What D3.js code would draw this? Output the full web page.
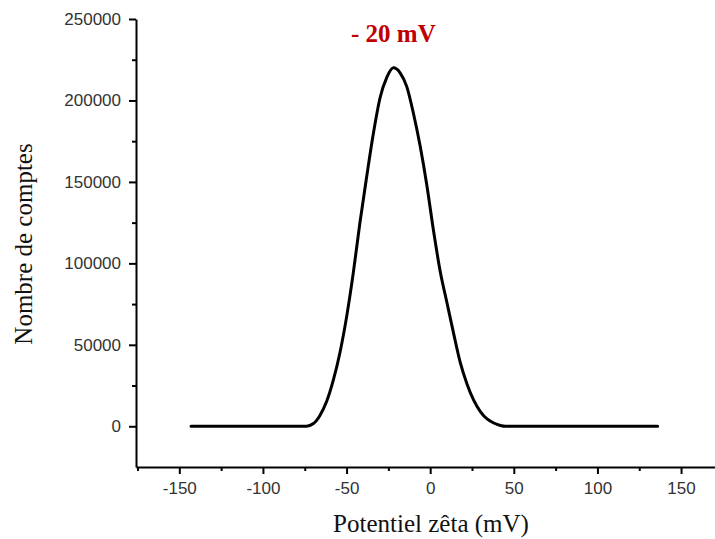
<!DOCTYPE html>
<html>
<head>
<meta charset="utf-8">
<script src="https://cdn.jsdelivr.net/npm/d3@7"></script>
<style>
  html, body { margin: 0; padding: 0; background: #fff; }
  svg { display: block; }
</style>
</head>
<body>
<svg id="chart" width="715" height="539"></svg>
<script>
// Data
const potential = [-143, -74, -70, -66, -62, -58, -54, -50, -46, -42, -38, -34, -30, -26, -22, -18, -14, -10, -6, -2, 2, 6, 10, 14, 18, 22, 26, 30, 34, 38, 42, 45, 136];
const counts    = [0, 0, 1500, 6500, 15000, 28000, 45000, 67000, 94000, 125000, 153000, 179500, 201500, 214000, 220000, 217000, 208500, 192000, 172000, 148000, 120000, 95000, 76000, 57000, 39000, 26000, 16000, 9000, 4500, 2000, 500, 0, 0];
const xMajorTicks = [-150, -100, -50, 0, 50, 100, 150];
const xMinorTicks = [-175, -125, -75, -25, 25, 75, 125];
const yMajorTicks = [0, 50000, 100000, 150000, 200000, 250000];
const yMinorTicks = [25000, 75000, 125000, 175000, 225000];
const peakLabel = "- 20 mV";
const xTitle = "Potentiel zêta (mV)";
const yTitle = "Nombre de comptes";

const svg = d3.select("#chart");
const x = d3.scaleLinear().domain([-175.9, 170.3]).range([136, 715]);
const y = d3.scaleLinear().domain([-25000, 250000]).range([467, 19]);

const tickFont = "'Liberation Sans', Arial, sans-serif";
const serif = "'Liberation Serif', 'Times New Roman', serif";
const fmt = d => String(d);

function styleAxis(g) {
  g.select(".domain").attr("stroke", "#000").attr("stroke-width", 2);
  g.selectAll(".tick line").attr("stroke", "#000").attr("stroke-width", 2);
  g.selectAll(".tick text").attr("fill", "#333").style("font-family", tickFont).style("font-size", "17px");
}

// X axis
const gx = svg.append("g").attr("transform", `translate(0,${y(-25000)})`);
gx.call(d3.axisBottom(x).tickValues(xMajorTicks).tickSize(7).tickSizeOuter(0).tickPadding(8).tickFormat(fmt));
styleAxis(gx);
const gxm = svg.append("g").attr("transform", `translate(0,${y(-25000)})`);
gxm.call(d3.axisBottom(x).tickValues(xMinorTicks).tickSize(4).tickSizeOuter(0).tickFormat(""));
gxm.select(".domain").remove();
gxm.selectAll(".tick line").attr("stroke", "#000").attr("stroke-width", 2);

// Y axis
const gy = svg.append("g").attr("transform", `translate(${x(-175.9)},0)`);
gy.call(d3.axisLeft(y).tickValues(yMajorTicks).tickSize(7).tickSizeOuter(0).tickPadding(8).tickFormat(fmt));
styleAxis(gy);
const gym = svg.append("g").attr("transform", `translate(${x(-175.9)},0)`);
gym.call(d3.axisLeft(y).tickValues(yMinorTicks).tickSize(4).tickSizeOuter(0).tickFormat(""));
gym.select(".domain").remove();
gym.selectAll(".tick line").attr("stroke", "#000").attr("stroke-width", 2);

// Curve
const pts = potential.map((v, i) => [v, counts[i]]);
svg.append("path")
  .datum(pts)
  .attr("fill", "none")
  .attr("stroke", "#000")
  .attr("stroke-width", 3)
  .attr("stroke-linejoin", "round")
  .attr("stroke-linecap", "round")
  .attr("d", d3.line().x(d => x(d[0])).y(d => y(d[1])).curve(d3.curveMonotoneX));

// Peak annotation
svg.append("text")
  .attr("x", x(-22))
  .attr("y", 42)
  .attr("text-anchor", "middle")
  .attr("fill", "#c00000")
  .style("font-family", serif)
  .style("font-weight", "bold")
  .style("font-size", "25px")
  .text(peakLabel);

// Axis titles
svg.append("text")
  .attr("x", 431)
  .attr("y", 532)
  .attr("text-anchor", "middle")
  .attr("fill", "#111")
  .style("font-family", serif)
  .style("font-size", "25px")
  .text(xTitle);

svg.append("text")
  .attr("transform", "translate(32,244) rotate(-90)")
  .attr("text-anchor", "middle")
  .attr("fill", "#111")
  .style("font-family", serif)
  .style("font-size", "25px")
  .text(yTitle);
</script>
</body>
</html>
